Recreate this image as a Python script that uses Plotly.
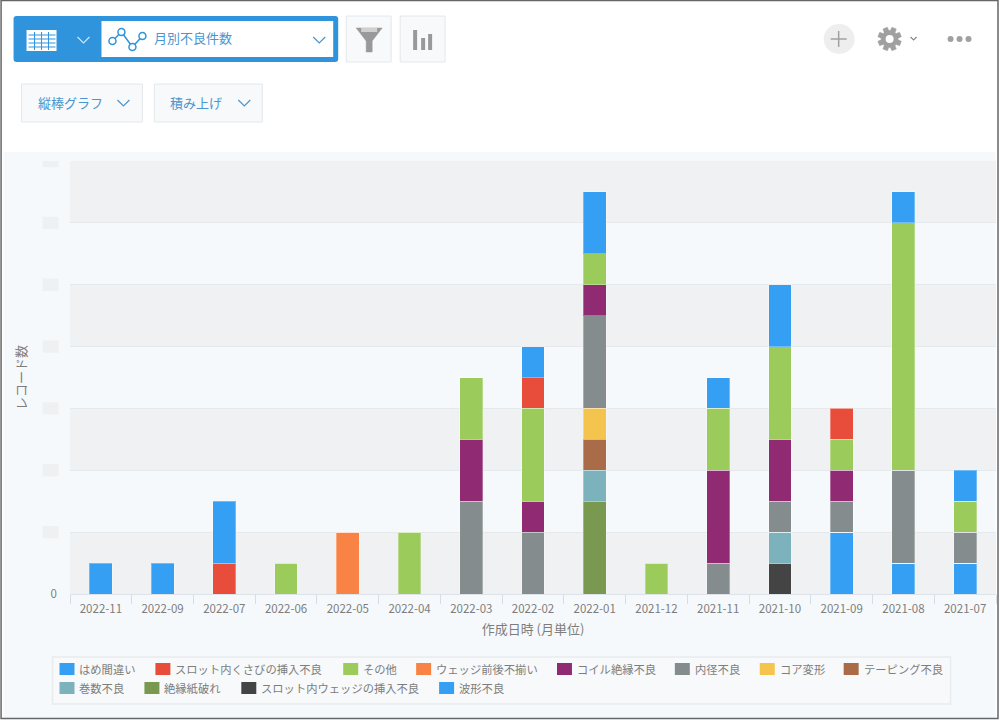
#!/usr/bin/env python3
"""Monthly defect counts as a stacked column chart, inside the app toolbar."""

from __future__ import annotations

import numpy as np
import plotly.graph_objects as go

MONTHS = [
    "2022-11", "2022-09", "2022-07", "2022-06", "2022-05", "2022-04", "2022-03", "2022-02",
    "2022-01", "2021-12", "2021-11", "2021-10", "2021-09", "2021-08", "2021-07",
]

HAME = [1, 1, 2, 0, 0, 0, 0, 1, 2, 0, 1, 2, 0, 1, 1]
SLOT_KUSABI = [0, 0, 1, 0, 0, 0, 0, 1, 0, 0, 0, 0, 1, 0, 0]
SONOTA = [0, 0, 0, 1, 0, 2, 2, 3, 1, 1, 2, 3, 1, 8, 1]
WEDGE = [0, 0, 0, 0, 2, 0, 0, 0, 0, 0, 0, 0, 0, 0, 0]
COIL = [0, 0, 0, 0, 0, 0, 2, 1, 1, 0, 3, 2, 1, 0, 0]
NAIKEI = [0, 0, 0, 0, 0, 0, 3, 2, 3, 0, 1, 1, 1, 3, 1]
CORE = [0, 0, 0, 0, 0, 0, 0, 0, 1, 0, 0, 0, 0, 0, 0]
TAPING = [0, 0, 0, 0, 0, 0, 0, 0, 1, 0, 0, 0, 0, 0, 0]
MAKISU = [0, 0, 0, 0, 0, 0, 0, 0, 1, 0, 0, 1, 0, 0, 0]
ZETSUEN = [0, 0, 0, 0, 0, 0, 0, 0, 3, 0, 0, 0, 0, 0, 0]
SLOT_WEDGE = [0, 0, 0, 0, 0, 0, 0, 0, 0, 0, 0, 1, 0, 0, 0]
HAKEI = [0, 0, 0, 0, 0, 0, 0, 0, 0, 0, 0, 0, 2, 1, 1]

# legend order, top of the stack first
SERIES = [
    ("はめ間違い", HAME, "#359ff3"),
    ("スロット内くさびの挿入不良", SLOT_KUSABI, "#e84c3b"),
    ("その他", SONOTA, "#9bcb5b"),
    ("ウェッジ前後不揃い", WEDGE, "#f98344"),
    ("コイル絶縁不良", COIL, "#8f2a73"),
    ("内径不良", NAIKEI, "#858c8e"),
    ("コア変形", CORE, "#f5c44f"),
    ("テーピング不良", TAPING, "#aa6c48"),
    ("巻数不良", MAKISU, "#7bb2bb"),
    ("絶縁紙破れ", ZETSUEN, "#78994f"),
    ("スロット内ウェッジの挿入不良", SLOT_WEDGE, "#444444"),
    ("波形不良", HAKEI, "#359ff3"),
]

Y_TICKS = [0, 2, 4, 6, 8, 10, 12, 14]

FONT = "Noto Sans CJK JP"
TEXT_GRAY = "#7d7d7d"
LINK_BLUE = "#4a94d0"
ICON_GRAY = "#a0a0a0"

# plot area in page pixels
LEFT, RIGHT, TOP, BOTTOM = 69.5, 996.5, 161, 594

# swatch left edge and row centre of each legend entry, same order as SERIES
LEGEND_SLOTS = [
    (59, 669), (155, 669), (343, 669), (416, 669), (557, 669), (675, 669), (760, 669), (844, 669),
    (59, 688), (144, 688), (241, 688), (439, 688),
]


def px(x):
    return (x - LEFT) / (RIGHT - LEFT)


def py(y):
    return (BOTTOM - y) / (BOTTOM - TOP)


def box(x0, y0, x1, y1, fill, line=None, kind="rect", width=1):
    return dict(
        type=kind, xref="paper", yref="paper", layer="below",
        x0=px(x0), y0=py(y0), x1=px(x1), y1=py(y1),
        fillcolor=fill, line=dict(color=line or fill, width=width if line else 0),
    )


def rounded_box(x0, y0, x1, y1, r, fill):
    p = lambda x, y: f"{px(x):.5f},{py(y):.5f}"
    path = (
        f"M{p(x0 + r, y0)} L{p(x1 - r, y0)} Q{p(x1, y0)} {p(x1, y0 + r)} "
        f"L{p(x1, y1 - r)} Q{p(x1, y1)} {p(x1 - r, y1)} "
        f"L{p(x0 + r, y1)} Q{p(x0, y1)} {p(x0, y1 - r)} "
        f"L{p(x0, y0 + r)} Q{p(x0, y0)} {p(x0 + r, y0)} Z"
    )
    return dict(
        type="path", xref="paper", yref="paper", layer="below", path=path,
        fillcolor=fill, line=dict(width=0),
    )


def polyline(points, color, width=1.5, fill=None):
    path = "M" + " L".join(f"{px(x):.5f},{py(y):.5f}" for x, y in points)
    if fill:
        path += " Z"
    return dict(
        type="path", xref="paper", yref="paper", layer="above", path=path,
        fillcolor=fill or "rgba(0,0,0,0)", line=dict(color=color, width=width),
    )


def chevron(cx, cy, color, size=6):
    return polyline([(cx - size, cy - size / 2), (cx, cy + size / 2), (cx + size, cy - size / 2)], color, 1.2)


def gear(cx, cy):
    angles = np.linspace(0, 2 * np.pi, 8, endpoint=False) + np.pi / 8
    points = []
    for a in angles:
        for offset, radius in [(-0.3, 8.5), (-0.2, 12), (0.2, 12), (0.3, 8.5)]:
            points.append((cx + radius * np.cos(a + offset), cy + radius * np.sin(a + offset)))
    return polyline(points, ICON_GRAY, 0.5, ICON_GRAY)


def label(x, y, text, size=13, color=LINK_BLUE):
    # annotations carry about 2px of padding on the left
    return dict(
        xref="paper", yref="paper", x=px(x - 2), y=py(y), text=text, showarrow=False,
        xanchor="left", yanchor="middle", font=dict(family=FONT, size=size, color=color),
    )


def toolbar_shapes():
    shapes = [
        box(3, 152, 996, 718, "#f6f9fb"),
        # view selector
        rounded_box(13, 16, 338, 62, 3, "#2f94dc"),
        box(101, 21, 333, 57, "#ffffff"),
        box(26, 30, 56, 51, "#ffffff"),
        # icon buttons and dropdowns
        box(346, 16, 391, 62, "#f7f9fb", "#e4e8ea"),
        box(400, 16, 445, 62, "#f7f9fb", "#e4e8ea"),
        box(21, 84, 142, 122, "#f7f9fb", "#e4e8ea"),
        box(154, 84, 262, 122, "#f7f9fb", "#e4e8ea"),
        box(824, 24, 855, 54, "#eeeeee", kind="circle"),
    ]
    # table icon grid
    for y in (35, 39, 43, 47):
        shapes.append(polyline([(28, y), (55, y)], "#2f94dc", 1))
    for x in (34, 41, 48):
        shapes.append(polyline([(x, 32), (x, 50)], "#2f94dc", 1))
    shapes += [chevron(83, 40, "#cfe6f7"), chevron(319, 40, LINK_BLUE), chevron(123, 103, LINK_BLUE), chevron(244, 103, LINK_BLUE)]
    # line chart icon
    nodes = [(112, 41), (121, 32), (132, 47), (142, 36)]
    shapes.append(polyline(nodes, "#2f94dc", 1.5))
    for x, y in nodes:
        shapes.append({**box(x - 3.5, y - 3.5, x + 3.5, y + 3.5, "#ffffff", "#2f94dc", "circle", 1.5), "layer": "above"})
    # funnel
    shapes.append(polyline([(356, 28), (382, 28), (372, 41), (372, 52), (366, 52), (366, 41)], "#999999", 0.5, "#999999"))
    shapes.append({**box(361, 28, 377, 32, "#d0d0d0"), "layer": "above"})
    # bars icon
    for x0, y0 in [(413, 30), (421, 38), (428, 34)]:
        shapes.append({**box(x0, y0, x0 + 4, 50, "#999999"), "layer": "above"})
    # plus, gear, dots
    shapes.append(polyline([(831, 39), (847, 39)], ICON_GRAY, 1.5))
    shapes.append(polyline([(839, 31), (839, 47)], ICON_GRAY, 1.5))
    shapes.append(gear(890, 39))
    shapes.append({**box(886, 35, 894, 43, "#ffffff", kind="circle"), "layer": "above"})
    shapes.append(polyline([(911, 37), (914, 40), (917, 37)], "#888888", 1.2))
    for x in (951, 960, 969):
        shapes.append({**box(x - 3, 36, x + 3, 42, ICON_GRAY, kind="circle"), "layer": "above"})
    # page frame
    shapes.append(dict(
        type="rect", xref="paper", yref="paper", layer="above",
        x0=px(0.5), y0=py(0.5), x1=px(998.5), y1=py(718.5),
        line=dict(color="#666666", width=1.5),
    ))
    return shapes


def band_shapes():
    shapes = []
    # every other y band is shaded, starting at the baseline
    for low, high in list(zip(Y_TICKS, Y_TICKS[1:]))[::2]:
        shapes.append(dict(
            type="rect", xref="paper", yref="y", layer="below", x0=0, x1=1, y0=low, y1=high,
            fillcolor="#f0f1f3", line=dict(width=0),
        ))
    # the tick numbers are blurred out in the source picture
    for tick in Y_TICKS[1:]:
        shapes.append(dict(
            type="rect", xref="paper", yref="y", layer="below",
            x0=px(42), x1=px(58), y0=tick - 0.2, y1=tick + 0.2,
            fillcolor="#eef0f2", line=dict(width=0),
        ))
    return shapes


def legend_items():
    # plotly's own legend pushes the margins and snaps entries to a grid, so it is drawn by hand
    shapes = [box(52, 657, 951, 704, "#f7f9fb", "#e8ecee", width=1.5)]
    notes = []
    for (name, _, color), (x, y) in zip(SERIES, LEGEND_SLOTS):
        shapes.append(box(x, y - 6, x + 15, y + 6, color))
        notes.append(label(x + 20, y, name, 11.3, TEXT_GRAY))
    return shapes, notes


def build_chart() -> go.Figure:
    fig = go.Figure()
    for name, values, color in reversed(SERIES):
        fig.add_trace(go.Bar(
            name=name, x=MONTHS, y=values,
            marker=dict(color=color, line=dict(width=1, color="rgba(255,255,255,0.3)")),
        ))

    legend_shapes, legend_notes = legend_items()
    fig.update_layout(
        width=1000,
        height=720,
        barmode="stack",
        bargap=0.63,
        showlegend=False,
        margin=dict(l=LEFT, r=1000 - RIGHT, t=TOP, b=720 - BOTTOM, autoexpand=False),
        paper_bgcolor="#ffffff",
        plot_bgcolor="rgba(0,0,0,0)",
        font=dict(family=FONT, size=11.5, color=TEXT_GRAY),
        shapes=toolbar_shapes() + legend_shapes + band_shapes(),
        annotations=[
            label(154, 38, "月別不良件数"),
            label(37, 102, "縦棒グラフ"),
            label(170, 102, "積み上げ"),
        ] + legend_notes,
    )
    fig.update_xaxes(
        type="category",
        categoryorder="array",
        categoryarray=MONTHS,
        automargin=False,
        tickson="boundaries",
        ticks="outside",
        ticklen=9,
        tickcolor="#d5dee6",
        showline=True,
        linecolor="#dde3e8",
        tickfont=dict(size=11.5),
        ticklabelstandoff=4,
        title=dict(text="作成日時 (月単位)", font=dict(size=13), standoff=10),
    )
    fig.update_yaxes(
        range=[0, 14],
        automargin=False,
        tickvals=Y_TICKS,
        ticktext=["0"] + [""] * (len(Y_TICKS) - 1),
        gridcolor="#e6e9ec",
        zeroline=False,
        tickfont=dict(size=11.5),
        ticklabelstandoff=12,
        title=dict(text="レコード数", font=dict(size=13), standoff=21),
    )
    return fig


def main() -> None:
    fig = build_chart()
    fig.write_html(
        "out.html",
        config={"displayModeBar": False},
        post_script="document.body.style.margin='0';document.body.style.overflow='hidden';",
    )


if __name__ == "__main__":
    main()
